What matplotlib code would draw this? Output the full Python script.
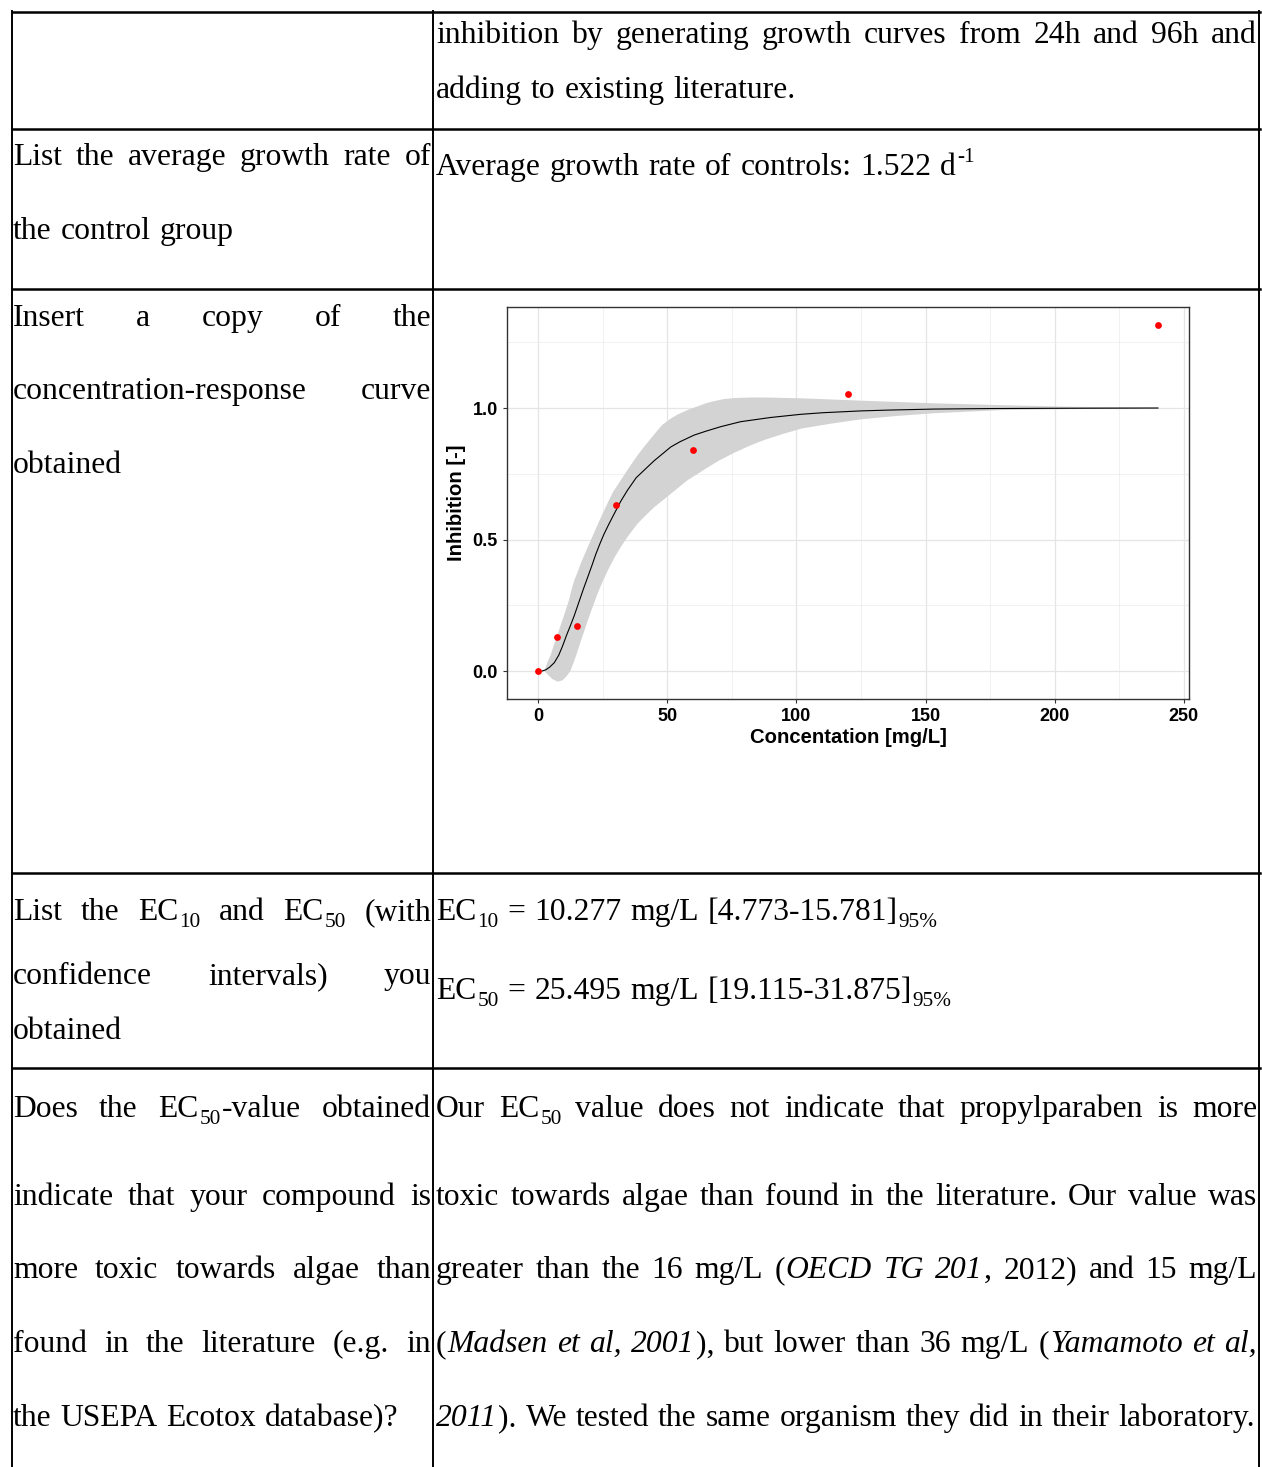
import re
import numpy as np
import matplotlib
matplotlib.use("Agg")
import matplotlib.pyplot as plt
from matplotlib.transforms import IdentityTransform
from matplotlib.lines import Line2D

# measured data for the dose-response plot
conc = [0, 7.5, 15, 30, 60, 120, 240]
inhib = [0, 0.13, 0.173, 0.631, 0.842, 1.055, 1.316]

fit_conc = [0, 1.5, 3, 4.5, 6.3, 8, 9.5, 11, 12.75, 14, 16, 17.5, 19.2, 21,
            22.4, 24, 25.6, 27.5, 29.5, 32, 34.6, 38, 42.4, 45, 51.4, 55,
            60.4, 65, 70.7, 78.4, 90, 101.6, 110, 124.8, 135, 153, 175, 200, 240]
fit_inhib = [0, 0.0, 0.005, 0.015, 0.032, 0.06, 0.095, 0.135, 0.178, 0.21,
             0.267, 0.31, 0.356, 0.405, 0.445, 0.485, 0.522, 0.56, 0.598,
             0.645, 0.687, 0.735, 0.776, 0.80, 0.852, 0.872, 0.897, 0.912,
             0.929, 0.948, 0.964, 0.976, 0.982, 0.989, 0.992, 0.996, 0.998,
             0.999, 1.0]

band_hi_x = [2.5, 3.5, 5, 6, 7.6, 8.8, 10, 11, 12, 13, 14, 15.3, 16.6, 17.9,
             19.2, 21, 23, 25, 27, 29, 32, 35, 38.5, 41, 45, 48, 51.4, 54,
             57.8, 60, 65, 68, 72, 76, 82, 88, 102, 125, 153, 179, 205, 240]
band_hi = [0.0, 0.03, 0.064, 0.095, 0.14, 0.175, 0.21, 0.24, 0.27, 0.31, 0.344,
           0.375, 0.41, 0.44, 0.47, 0.51, 0.555, 0.598, 0.64, 0.68, 0.725,
           0.77, 0.82, 0.852, 0.90, 0.935, 0.96, 0.975, 0.992, 1.0, 1.018,
           1.026, 1.034, 1.038, 1.04, 1.04, 1.037, 1.028, 1.018, 1.011, 1.005,
           1.001]
band_lo_x = [2.5, 4, 5.5, 7.6, 9.5, 11, 12.5, 14, 15.3, 16.6, 19.2, 21, 23,
             25, 27, 29.5, 32, 35, 38.5, 42, 45, 51.4, 57.8, 65, 70, 76, 82,
             88, 95, 102, 113, 125, 139, 153, 179, 205, 240]
band_lo = [0.0, -0.015, -0.03, -0.04, -0.035, -0.02, 0.0, 0.038, 0.075, 0.115,
           0.19, 0.24, 0.293, 0.34, 0.382, 0.43, 0.471, 0.515, 0.56, 0.595,
           0.623, 0.674, 0.725, 0.77, 0.80, 0.83, 0.857, 0.88, 0.902, 0.922,
           0.94, 0.957, 0.97, 0.98, 0.992, 0.996, 0.999]

x_ticks = [0, 50, 100, 150, 200, 250]
y_ticks = [0.0, 0.5, 1.0]

W, H = 1262, 1467
fig = plt.figure(figsize=(W / 100, H / 100), dpi=100)
fig.patch.set_facecolor("white")
renderer = fig.canvas.get_renderer()

SERIF = "Liberation Serif"
FS = 22.8
SUB = 0.67

# table lines
def hline(y, x0=12, x1=1260):
    fig.add_artist(Line2D([x0, x1], [H - y, H - y], color="black", lw=1.8,
                          transform=IdentityTransform()))

def vline(x, y0=11, y1=1467):
    fig.add_artist(Line2D([x, x], [H - y0, H - y1], color="black", lw=1.4,
                          transform=IdentityTransform()))

for yy in [12, 129, 289, 873, 1068]:
    hline(yy)
for xx in [12, 433, 1259]:
    vline(xx)

tok = re.compile(r"(_\{[^}]*\}|\^\{[^}]*\}|\*[^*]*\*)")

def runs_of(word):
    out = []
    for p in tok.split(word):
        if not p:
            continue
        if p.startswith("_{"):
            out.append((p[2:-1], "sub"))
        elif p.startswith("^{"):
            out.append((p[2:-1], "sup"))
        elif p.startswith("*"):
            out.append((p[1:-1], "it"))
        else:
            out.append((p, "n"))
    return out

def make(x, y, s, kind):
    size = FS * SUB if kind in ("sub", "sup") else FS
    dy = {"sub": -7, "sup": 13}.get(kind, 0)
    style = "italic" if kind == "it" else "normal"
    return fig.text(x, H - y + dy, s, fontsize=size, family=SERIF,
                    style=style, ha="left", va="baseline",
                    transform=IdentityTransform())

def width(s, kind):
    t = make(0, 0, s, kind)
    w = t.get_window_extent(renderer).width
    t.remove()
    return w

SPACE = width("a a", "n") - width("aa", "n")

def line(text, y, x0, x1, justify=False):
    words = [runs_of(w) for w in text.split(" ")]
    ws = [[width(s, k) + 1 for s, k in wd] for wd in words]
    tot = sum(sum(w) for w in ws)
    gap = SPACE
    if justify and len(words) > 1:
        gap = (x1 - x0 - tot) / (len(words) - 1)
    x = x0
    for wd, wl in zip(words, ws):
        for (s, k), w in zip(wd, wl):
            make(x, y, s, k)
            x += w
        x += gap

L0, L1 = 13, 432
R0, R1 = 436, 1258

# row 1
line("inhibition by generating growth curves from 24h and 96h and", 43, R0, R1, True)
line("adding to existing literature.", 98, R0, R1)
# row 2
line("List the average growth rate of", 165, L0, L1, True)
line("the control group", 239, L0, L1)
line("Average growth rate of controls: 1.522 d^{-1}", 175, R0, R1)
# row 3
line("Insert a copy of the", 326, L0, L1, True)
line("concentration-response curve", 399, L0, L1, True)
line("obtained", 473, L0, L1)
# row 4
line("List the EC_{10} and EC_{50} (with", 920, L0, L1, True)
line("confidence intervals) you", 984, L0, L1, True)
line("obtained", 1039, L0, L1)
line("EC_{10} = 10.277 mg/L [4.773-15.781]_{95%}", 920, R0, R1)
line("EC_{50} = 25.495 mg/L [19.115-31.875]_{95%}", 999, R0, R1)
# row 5
left5 = ["Does the EC_{50}-value obtained",
         "indicate that your compound is",
         "more toxic towards algae than",
         "found in the literature (e.g. in",
         "the USEPA Ecotox database)?"]
right5 = ["Our EC_{50} value does not indicate that propylparaben is more",
          "toxic towards algae than found in the literature. Our value was",
          "greater than the 16 mg/L (*OECD* *TG* *201*, 2012) and 15 mg/L",
          "(*Madsen* *et* *al,* *2001*), but lower than 36 mg/L (*Yamamoto* *et* *al,*",
          "*2011*). We tested the same organism they did in their laboratory."]
base5 = [1117, 1205, 1278, 1352, 1426]
for i, yb in enumerate(base5):
    last = i == len(base5) - 1
    line(left5[i], yb, L0, L1, not last)
    line(right5[i], yb, R0, R1, not last)

# embedded chart
ax = fig.add_axes([507 / W, 1 - 699 / H, 682 / W, 392 / H])
ax.set_facecolor("white")
ax.fill(band_hi_x + band_lo_x[::-1], band_hi + band_lo[::-1],
        color="#d3d3d3", lw=0, zorder=2)
ax.plot(fit_conc, fit_inhib, color="black", lw=0.8, zorder=3)
ax.scatter(conc, inhib, color="#ff0000", s=24, zorder=4, linewidths=0)
ax.set_xlim(-12, 252)
ax.set_ylim(-0.106, 1.384)
ax.set_xticks(x_ticks)
ax.set_yticks(y_ticks)
ax.set_xticks([25, 75, 125, 175, 225], minor=True)
ax.set_yticks([0.25, 0.75, 1.25], minor=True)
ax.set_xticklabels([str(v) for v in x_ticks])
ax.set_yticklabels(["0.0", "0.5", "1.0"])
ax.grid(which="major", color="#e5e5e5", lw=0.9, zorder=0)
ax.grid(which="minor", color="#ebebeb", lw=0.5, zorder=0)
ax.set_axisbelow(True)
ax.tick_params(which="minor", length=0)
ax.tick_params(which="major", length=3, width=0.8, color="#333333",
               labelsize=13, pad=3.5)
for lab in ax.get_xticklabels() + ax.get_yticklabels():
    lab.set_fontweight("bold")
    lab.set_family("Liberation Sans")
    lab.set_color("black")
for sp in ax.spines.values():
    sp.set_color("#333333")
    sp.set_linewidth(1.0)
ax.set_xlabel("Concentation [mg/L]", fontsize=14.6, fontweight="bold",
              family="Liberation Sans")
ax.set_ylabel("Inhibition [-]", fontsize=14.6, fontweight="bold",
              family="Liberation Sans")
ax.xaxis.set_label_coords(0.5, (699 - 737) / 392)
ax.xaxis.label.set_va("center")
ax.yaxis.set_label_coords((457 - 507) / 682, 0.5)
ax.yaxis.label.set_va("center")

fig.savefig("out.png", dpi=100)
